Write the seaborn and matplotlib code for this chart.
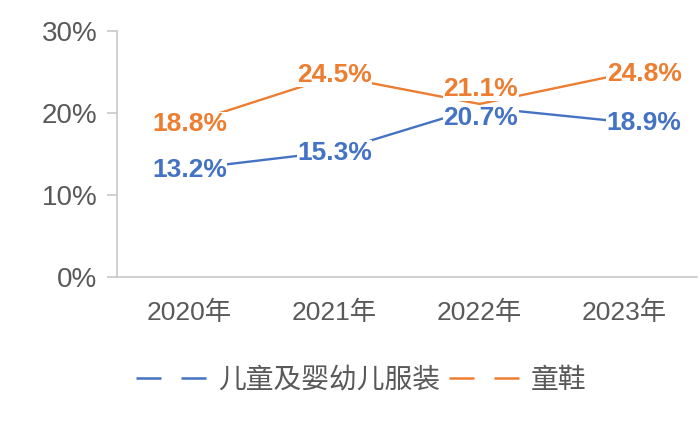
import pandas as pd
import numpy as np
import matplotlib
matplotlib.use('Agg')
import matplotlib.pyplot as plt
from matplotlib.lines import Line2D
import seaborn as sns

years = ['2020年', '2021年', '2022年', '2023年']
kids_clothing = [13.2, 15.3, 20.7, 18.9]
kids_shoes = [18.8, 24.5, 21.1, 24.8]
series_names = ['儿童及婴幼儿服装', '童鞋']
yticks = [0, 10, 20, 30]

blue = '#4472C4'
orange = '#ED7D31'
gray = '#595959'

# label nudges in points (layout only)
clothing_offsets = [(0, -1), (0, -1), (1, -8), (14, -1)]
shoes_offsets = [(0, -1), (0, 1), (1, 11), (14, 0)]

df = pd.DataFrame({
    'year': years * 2,
    'value': kids_clothing + kids_shoes,
    'series': [series_names[0]] * 4 + [series_names[1]] * 4,
})

sns.set_theme(style='white')
plt.rcParams['font.family'] = ['Liberation Sans', 'Noto Sans CJK SC', 'DejaVu Sans']

fig = plt.figure(figsize=(7, 4.22), dpi=100)
ax = fig.add_axes([0.167, 0.3436, 0.829, 0.583])

sns.lineplot(data=df, x='year', y='value', hue='series', sort=False,
             palette=[blue, orange], linewidth=1.7, legend=False, ax=ax)

# data labels on white boxes so the line stops at the text
for vals, offs, col in [(kids_clothing, clothing_offsets, blue),
                        (kids_shoes, shoes_offsets, orange)]:
    for i, v in enumerate(vals):
        ax.annotate(f'{v}%', (i, v), xytext=offs[i], textcoords='offset points',
                    color=col, fontsize=19, fontweight='bold',
                    ha='center', va='center', zorder=5,
                    bbox=dict(facecolor='white', edgecolor='none', pad=0.3))

ax.set_xlim(-0.5, 3.5)
ax.set_ylim(0, 30)
ax.set_yticks(yticks)
ax.set_yticklabels([f'{t}%' for t in yticks])
ax.set_xlabel('')
ax.set_ylabel('')
for s in ['top', 'right']:
    ax.spines[s].set_visible(False)
for s in ['left', 'bottom']:
    ax.spines[s].set_color('#c8c8c8')
    ax.spines[s].set_linewidth(1.2)
ax.tick_params(axis='y', which='major', left=True, length=7, width=1.2,
               color='#c8c8c8', labelsize=20, labelcolor=gray, pad=7)
ax.tick_params(axis='x', bottom=False, labelsize=19, labelcolor=gray, pad=11)

handles = [Line2D([0], [0], color=blue, lw=1.8, dashes=(10, 8)),
           Line2D([0], [0], color=orange, lw=1.8, dashes=(10, 8))]
leg = fig.legend(handles, series_names, loc='center', bbox_to_anchor=(0.516, 0.097),
                 ncol=2, frameon=False, fontsize=20, handlelength=2.6,
                 handletextpad=0.36, columnspacing=0.3)
for t in leg.get_texts():
    t.set_color(gray)

fig.savefig('out.png', dpi=100)
